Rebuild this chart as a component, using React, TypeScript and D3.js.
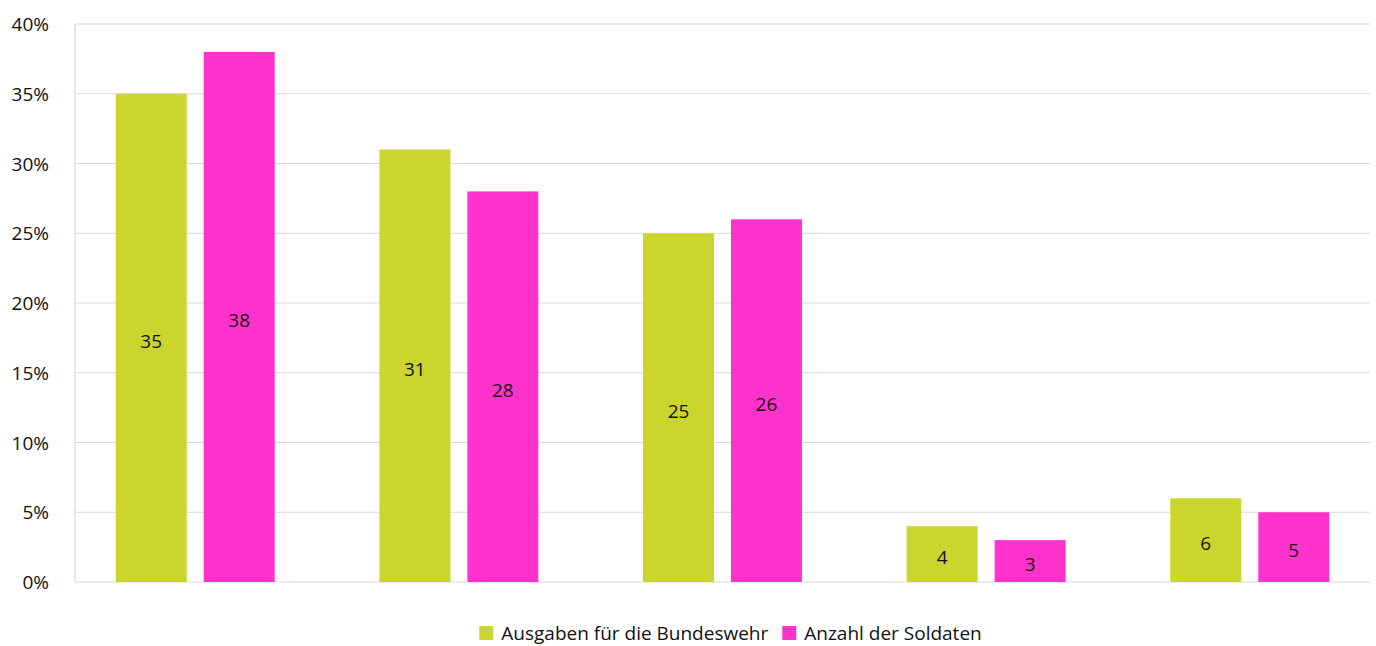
import React, { useEffect, useRef } from "react";
import * as d3 from "d3";

const categories = ["A", "B", "C", "D", "E"];
const seriesNames = ["Ausgaben für die Bundeswehr", "Anzahl der Soldaten"];
const ausgaben = [35, 31, 25, 4, 6];
const soldaten = [38, 28, 26, 3, 5];
const yTicks = [0, 5, 10, 15, 20, 25, 30, 35, 40];
const colors = ["#CAD62D", "#FF33CC"];

export default function App() {
  const ref = useRef<SVGSVGElement | null>(null);

  useEffect(() => {
    const svg = d3.select(ref.current);
    svg.selectAll("*").remove();

    const left = 75;
    const right = 1370;
    const top = 24;
    const bottom = 582;
    const font = "'Open Sans', 'Noto Sans', sans-serif";
    const fontSize = 19;

    const y = d3.scaleLinear().domain([0, 40]).range([bottom, top]);
    const x0 = d3
      .scaleBand()
      .domain(categories)
      .range([left, right])
      .paddingInner(0.397)
      .paddingOuter(0.1545);
    const x1 = d3
      .scaleBand()
      .domain(seriesNames)
      .range([0, x0.bandwidth()])
      .paddingInner(0.193);

    const g = svg.append("g");

    // grid
    g.selectAll(".grid")
      .data(yTicks)
      .enter()
      .append("line")
      .attr("x1", left)
      .attr("x2", right)
      .attr("y1", (d) => y(d))
      .attr("y2", (d) => y(d))
      .attr("stroke", "#d9d9d9")
      .attr("stroke-width", 1.2);

    g.append("line")
      .attr("x1", left)
      .attr("x2", left)
      .attr("y1", top)
      .attr("y2", bottom)
      .attr("stroke", "#d9d9d9")
      .attr("stroke-width", 1.2);

    g.selectAll(".ytick")
      .data(yTicks)
      .enter()
      .append("text")
      .attr("x", 49)
      .attr("y", (d) => y(d) + 7)
      .attr("text-anchor", "end")
      .attr("font-family", font)
      .attr("font-size", fontSize)
      .attr("fill", "#111")
      .text((d) => `${d}%`);

    const rows = categories.map((c, i) => ({
      cat: c,
      values: [ausgaben[i], soldaten[i]],
    }));

    const groups = g
      .selectAll(".group")
      .data(rows)
      .enter()
      .append("g")
      .attr("transform", (d) => `translate(${x0(d.cat)},0)`);

    groups
      .selectAll("rect")
      .data((d) => d.values.map((v, j) => ({ v, name: seriesNames[j], j })))
      .enter()
      .append("rect")
      .attr("x", (d) => x1(d.name)!)
      .attr("width", x1.bandwidth())
      .attr("y", (d) => y(d.v))
      .attr("height", (d) => bottom - y(d.v))
      .attr("fill", (d) => colors[d.j]);

    groups
      .selectAll(".lbl")
      .data((d) => d.values.map((v, j) => ({ v, name: seriesNames[j], j })))
      .enter()
      .append("text")
      .attr("x", (d) => x1(d.name)! + x1.bandwidth() / 2)
      .attr("y", (d) => (y(d.v) + bottom) / 2 + 10)
      .attr("text-anchor", "middle")
      .attr("font-family", font)
      .attr("font-size", fontSize)
      .attr("fill", "#111")
      .text((d) => d.v);

    // legend, centred under the plot
    const legend = svg.append("g");
    const items = seriesNames.map((name, i) => {
      const item = legend.append("g");
      item.append("rect").attr("y", -14).attr("width", 14).attr("height", 14).attr("fill", colors[i]);
      const t = item
        .append("text")
        .attr("x", 22)
        .attr("font-family", font)
        .attr("font-size", fontSize)
        .attr("fill", "#111")
        .text(name);
      return { item, w: 22 + (t.node() as SVGTextElement).getComputedTextLength() };
    });
    const gap = 14;
    const total = d3.sum(items, (d) => d.w) + gap * (items.length - 1);
    let cx = 730.5 - total / 2;
    items.forEach((d) => {
      d.item.attr("transform", `translate(${cx},640)`);
      cx += d.w + gap;
    });
  }, []);

  return (
    <svg
      ref={ref}
      width={1376}
      height={646}
      style={{ position: "absolute", left: 0, top: 0, background: "#fff" }}
    />
  );
}
